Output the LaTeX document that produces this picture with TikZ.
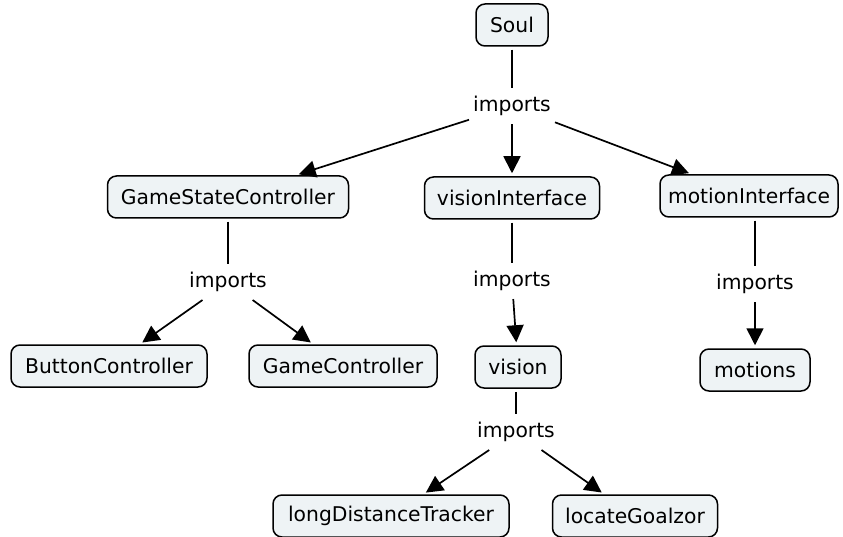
\documentclass[tikz,border=0pt]{standalone}
\usepackage{fontspec}
\setmainfont{DejaVu Sans}
\usetikzlibrary{arrows.meta}
\definecolor{boxfill}{HTML}{EEF3F5}
\begin{document}
\begin{tikzpicture}[x=1pt,y=-1pt,
  cbox/.style={draw=black, line width=1.5pt, fill=boxfill, rounded corners=9pt,
    font=\fontsize{20.3}{24}\selectfont, inner xsep=0pt, inner ysep=0pt, minimum height=42pt},
  lbl/.style={font=\fontsize{20.3}{24}\selectfont, inner xsep=4pt, inner ysep=8pt},
  conn/.style={line width=1.7pt, shorten <=3pt},
  arr/.style={line width=1.7pt, -{Triangle[length=17pt,width=17pt]}, shorten >=3pt}]
\useasboundingbox (0,0) rectangle (843,537);
\node[cbox, minimum width=72pt] (soul) at (512,25) {Soul};
\node[lbl] (i1) at (512,106) {imports};
\node[cbox, minimum width=241pt] (gsc) at (228,197) {GameStateController};
\node[cbox, minimum width=175pt] (vi) at (512,198) {visionInterface};
\node[cbox, minimum width=178pt] (mi) at (749,196) {motionInterface};
\node[lbl] (i2) at (228,282) {imports};
\node[lbl] (i3) at (512,281) {imports};
\node[lbl] (i4) at (755,284) {imports};
\node[cbox, minimum width=196pt] (bc) at (109,366) {ButtonController};
\node[cbox, minimum width=188pt] (gc) at (343,366) {GameController};
\node[cbox, minimum width=86pt] (vis) at (518,367) {vision};
\node[cbox, minimum width=110pt] (mot) at (755,370) {motions};
\node[lbl] (i5) at (516,432) {imports};
\node[cbox, minimum width=236pt] (ldt) at (391,516) {longDistanceTracker};
\node[cbox, minimum width=165pt] (lg) at (635,516) {locateGoalzor};
\draw[conn] (soul) -- (i1);
\draw[arr] (i1) -- (gsc);
\draw[arr] (i1) -- (vi);
\draw[arr] (i1) -- (mi);
\draw[conn] (gsc) -- (i2);
\draw[arr] (i2) -- (bc);
\draw[arr] (i2) -- (gc);
\draw[conn] (vi) -- (i3);
\draw[arr] (i3) -- (vis);
\draw[conn] (mi.south -| i4) -- (i4);
\draw[arr] (i4) -- (mot);
\draw[conn] (vis.south -| i5) -- (i5);
\draw[arr] (i5) -- (ldt);
\draw[arr] (i5) -- (lg);
\end{tikzpicture}
\end{document}
